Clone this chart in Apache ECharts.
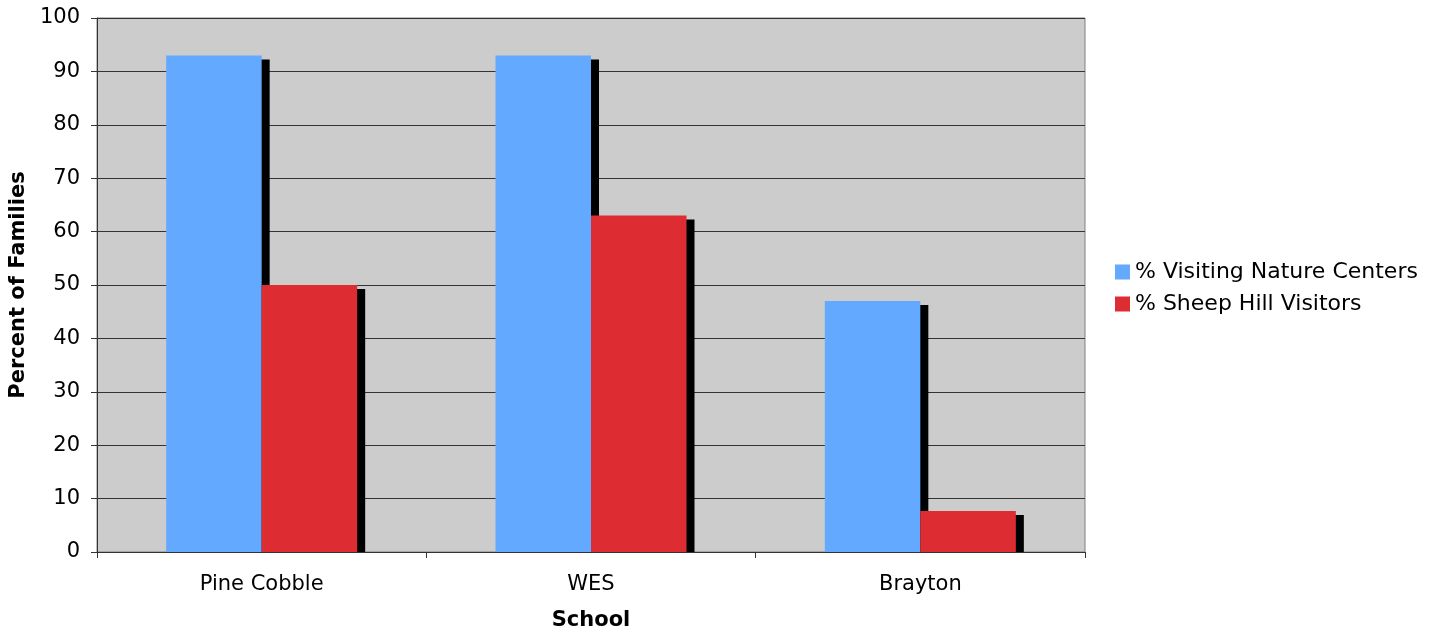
<!DOCTYPE html>
<html>
<head>
<meta charset="utf-8">
<title>Percent of Families by School</title>
<script src="https://cdn.jsdelivr.net/npm/echarts@6/dist/echarts.min.js"></script>
<style>
  html, body { margin: 0; padding: 0; background: #ffffff; }
  #chart { width: 1449px; height: 632px; }
</style>
</head>
<body>
<div id="chart"></div>
<script>
// Schools and the share of families in each group
const categories = ['Pine Cobble', 'WES', 'Brayton'];
const natureCenters = [93, 93, 47];
const sheepHill = [50, 63, 7.7];
const seriesNames = ['% Visiting Nature Centers', '% Sheep Hill Visitors'];

const FONT = '"DejaVu Sans", Verdana, sans-serif';
const BLUE = '#63a9ff';
const RED = '#dd2d33';
const BAR_FRACTION = 0.29;   // bar width as a share of the category band
const SHADOW_DX = 8;
const SHADOW_DY = 4;

// Draws one bar of a side-by-side pair with a hard black drop shadow
// that stops at the baseline.
function pairedBar(side, color) {
  return function (params, api) {
    const idx = api.value(0);
    const v = api.value(1);
    const base = api.coord([idx, 0]);
    const top = api.coord([idx, v]);
    const w = api.size([1, 0])[0] * BAR_FRACTION;
    const x = side === 0 ? base[0] - w : base[0];
    const h = base[1] - top[1];
    return {
      type: 'group',
      children: [
        {
          type: 'rect',
          shape: { x: x + SHADOW_DX, y: top[1] + SHADOW_DY, width: w, height: Math.max(0, h - SHADOW_DY) },
          style: { fill: '#000000' }
        },
        {
          type: 'rect',
          shape: { x: x, y: top[1], width: w, height: h },
          style: { fill: color }
        }
      ]
    };
  };
}

const chart = echarts.init(document.getElementById('chart'), null, { renderer: 'canvas' });

chart.setOption({
  animation: false,
  backgroundColor: '#ffffff',
  textStyle: { fontFamily: FONT },
  grid: {
    left: 97, right: 364, top: 18, bottom: 80,
    outerBoundsMode: 'none',
    containLabel: false,
    show: true,
    backgroundColor: '#cccccc',
    borderColor: '#808080',
    borderWidth: 1
  },
  legend: {
    orient: 'vertical',
    left: 1110,
    top: 256,
    itemWidth: 15,
    itemHeight: 15,
    itemGap: 10,
    icon: 'rect',
    data: seriesNames,
    textStyle: { fontFamily: FONT, fontSize: 22, color: '#000000' }
  },
  xAxis: {
    type: 'category',
    data: categories,
    boundaryGap: true,
    name: 'School',
    nameLocation: 'middle',
    nameGap: 58,
    nameTextStyle: { fontFamily: FONT, fontSize: 21, fontWeight: 'bold', color: '#000000' },
    axisLine: { show: true, lineStyle: { color: '#333333', width: 1 } },
    axisTick: { show: true, length: 6, lineStyle: { color: '#333333' } },
    axisLabel: { fontFamily: FONT, fontSize: 21, color: '#000000', margin: 22 },
    splitLine: { show: false }
  },
  yAxis: {
    type: 'value',
    min: 0,
    max: 100,
    interval: 10,
    name: 'Percent of Families',
    nameLocation: 'middle',
    nameRotate: 90,
    nameGap: 68,
    nameTextStyle: { fontFamily: FONT, fontSize: 21, fontWeight: 'bold', color: '#000000' },
    axisLine: { show: true, lineStyle: { color: '#333333', width: 1 } },
    axisTick: { show: true, length: 6, lineStyle: { color: '#333333' } },
    axisLabel: { fontFamily: FONT, fontSize: 21, color: '#000000', margin: 17 },
    splitLine: { show: true, lineStyle: { color: '#333333', width: 1 } }
  },
  series: [
    {
      name: seriesNames[0],
      type: 'custom',
      renderItem: pairedBar(0, BLUE),
      itemStyle: { color: BLUE },
      encode: { x: 0, y: 1 },
      data: natureCenters.map((v, i) => [i, v])
    },
    {
      name: seriesNames[1],
      type: 'custom',
      renderItem: pairedBar(1, RED),
      itemStyle: { color: RED },
      encode: { x: 0, y: 1 },
      data: sheepHill.map((v, i) => [i, v])
    }
  ]
});
</script>
</body>
</html>
